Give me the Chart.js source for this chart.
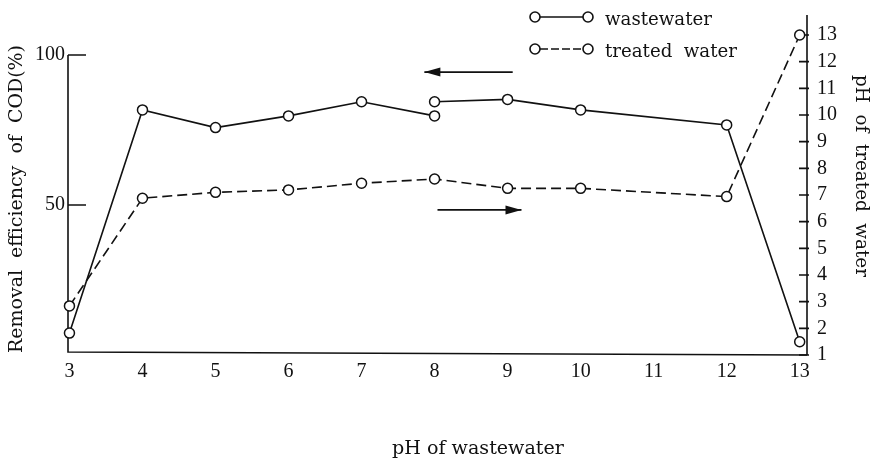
<!DOCTYPE html>
<html><head><meta charset="utf-8">
<script src="https://cdn.jsdelivr.net/npm/chart.js@4/dist/chart.umd.min.js"></script>
<style>html,body{margin:0;padding:0;background:#fff;}#wrap{width:876px;height:460px;position:relative}</style>
</head><body><div id="wrap"><canvas id="c" width="876" height="460"></canvas></div>
<script>
// ---- data ----
const wastewaterPH   = [3, 4, 5, 6, 7, 8, 8, 9, 10, 12, 13];
const removalCOD     = [7.3, 81.7, 75.8, 79.7, 84.4, 79.7, 84.4, 85.2, 81.7, 76.7, 4.4];
const treatedX       = [3, 4, 5, 6, 7, 8, 9, 10, 12, 13];
const treatedPH      = [2.84, 6.88, 7.1, 7.19, 7.44, 7.6, 7.25, 7.25, 6.94, 13.0];
const xTicks         = [3, 4, 5, 6, 7, 8, 9, 10, 11, 12, 13];
const leftTicks      = [50, 100];
const rightTicks     = [1, 2, 3, 4, 5, 6, 7, 8, 9, 10, 11, 12, 13];
const legendLabels   = ['wastewater', 'treated  water'];
const xTitle         = 'pH of wastewater';
const leftTitle      = 'Removal  efficiency  of  COD(%)';
const rightTitle     = 'pH  of  treated  water';

const SERIF = '"DejaVu Serif", serif';
const TICKF = '"Liberation Serif", serif';
const INK = '#111';

function fitSize(ctx, text, family, target) {
  ctx.font = '20px ' + family;
  return 20 * target / ctx.measureText(text).width;
}

const decor = {
  id: 'decor',
  beforeDatasetsDraw(chart) {
    const ctx = chart.ctx, xs = chart.scales.x, yl = chart.scales.yL, yr = chart.scales.yR;
    const L = xs.left, R = xs.right;
    ctx.save();
    ctx.strokeStyle = INK; ctx.lineWidth = 1.6; ctx.setLineDash([]);
    const yb = yl.getPixelForValue(1);
    ctx.beginPath();
    ctx.moveTo(L, yl.getPixelForValue(100)); ctx.lineTo(L, yb);
    ctx.lineTo(R, yb + 3);
    ctx.moveTo(R, yr.getPixelForValue(13) - 20); ctx.lineTo(R, yb + 3);
    ctx.stroke();
    // left ticks (inward)
    ctx.beginPath();
    leftTicks.forEach(v => { const y = yl.getPixelForValue(v); ctx.moveTo(L, y); ctx.lineTo(L + 18, y); });
    // right ticks
    rightTicks.forEach(v => { const y = yr.getPixelForValue(v); ctx.moveTo(R - 8, y); ctx.lineTo(R + 2, y); });
    ctx.stroke();
    // arrows
    const arrows = [
      {x1: 7.86, x2: 9.07, y: yl.getPixelForValue(94.3), head: 'left'},
      {x1: 8.04, x2: 9.19, y: yr.getPixelForValue(6.44), head: 'right'}
    ];
    ctx.fillStyle = INK;
    arrows.forEach(a => {
      const p1 = xs.getPixelForValue(a.x1), p2 = xs.getPixelForValue(a.x2);
      ctx.lineWidth = 1.8;
      ctx.beginPath(); ctx.moveTo(p1, a.y); ctx.lineTo(p2, a.y); ctx.stroke();
      const tip = a.head === 'left' ? p1 : p2, d = a.head === 'left' ? 1 : -1;
      ctx.beginPath(); ctx.moveTo(tip, a.y); ctx.lineTo(tip + d * 16, a.y - 4.5); ctx.lineTo(tip + d * 16, a.y + 4.5); ctx.closePath(); ctx.fill();
    });
    ctx.restore();
  },
  afterDraw(chart) {
    const ctx = chart.ctx;
    ctx.save();
    ctx.fillStyle = INK; ctx.strokeStyle = INK;
    // legend
    const rows = [{y: 17, base: 25, dash: []}, {y: 49, base: 57, dash: [8, 3]}];
    rows.forEach((r, i) => {
      ctx.lineWidth = 1.6;
      ctx.setLineDash(r.dash);
      ctx.beginPath(); ctx.moveTo(540, r.y); ctx.lineTo(583, r.y); ctx.stroke();
      ctx.setLineDash([]);
      [535, 588].forEach(cx => {
        ctx.beginPath(); ctx.arc(cx, r.y, 5, 0, Math.PI * 2);
        ctx.fillStyle = '#fff'; ctx.fill(); ctx.stroke();
      });
      ctx.fillStyle = INK;
      const s = fitSize(ctx, legendLabels[0], SERIF, 107);
      ctx.font = s + 'px ' + SERIF;
      ctx.textAlign = 'left'; ctx.textBaseline = 'alphabetic';
      ctx.fillText(legendLabels[i], 605, r.base);
    });
    // x title
    let s = fitSize(ctx, xTitle, SERIF, 172);
    ctx.font = s + 'px ' + SERIF; ctx.textAlign = 'center'; ctx.textBaseline = 'alphabetic';
    ctx.fillText(xTitle, 478, 454);
    // left title
    s = fitSize(ctx, leftTitle, SERIF, 308);
    ctx.font = s + 'px ' + SERIF;
    ctx.save(); ctx.translate(17, 199); ctx.rotate(-Math.PI / 2);
    ctx.textBaseline = 'middle'; ctx.fillText(leftTitle, 0, 0); ctx.restore();
    // right title
    s = fitSize(ctx, rightTitle, SERIF, 202);
    ctx.font = s + 'px ' + SERIF;
    ctx.save(); ctx.translate(861, 176); ctx.rotate(Math.PI / 2);
    ctx.textBaseline = 'middle'; ctx.fillText(rightTitle, 0, 0); ctx.restore();
    ctx.restore();
  }
};

const ptStyle = {pointRadius: 5, pointBorderWidth: 1.5, pointBackgroundColor: '#fff', pointBorderColor: INK, pointHoverRadius: 5};

new Chart(document.getElementById('c'), {
  type: 'line',
  data: {
    datasets: [
      Object.assign({
        label: legendLabels[0],
        data: wastewaterPH.map((x, i) => ({x, y: removalCOD[i]})),
        yAxisID: 'yL', borderColor: INK, borderWidth: 1.6, tension: 0, clip: false,
        segment: {borderColor: c => c.p0.parsed.x === c.p1.parsed.x ? 'rgba(0,0,0,0)' : INK}
      }, ptStyle),
      Object.assign({
        label: legendLabels[1],
        data: treatedX.map((x, i) => ({x, y: treatedPH[i]})),
        yAxisID: 'yR', borderColor: INK, borderWidth: 1.6, borderDash: [10, 5], tension: 0, clip: false
      }, ptStyle)
    ]
  },
  options: {
    responsive: false, animation: false, devicePixelRatio: 1,
    layout: {padding: {top: 35, left: 0, right: 0, bottom: 0}},
    plugins: {legend: {display: false}, tooltip: {enabled: false}},
    scales: {
      x: {
        type: 'linear', position: 'bottom', min: 2.98, max: 13.1,
        afterBuildTicks: s => { s.ticks = xTicks.map(v => ({value: v})); },
        afterFit: s => { s.height = 105; },
        grid: {display: false, drawTicks: false}, border: {display: false},
        ticks: {padding: 5, color: INK, font: {family: TICKF, size: 20}, maxRotation: 0, autoSkip: false}
      },
      yL: {
        type: 'linear', position: 'left', min: 0, max: 106.667,
        afterBuildTicks: s => { s.ticks = leftTicks.map(v => ({value: v})); },
        afterFit: s => { s.width = 68; },
        grid: {display: false, drawTicks: false}, border: {display: false},
        ticks: {padding: 3, color: INK, font: {family: TICKF, size: 20}, autoSkip: false}
      },
      yR: {
        type: 'linear', position: 'right', min: 1, max: 13,
        afterBuildTicks: s => { s.ticks = rightTicks.map(v => ({value: v})); },
        afterFit: s => { s.width = 69; },
        grid: {display: false, drawTicks: false}, border: {display: false},
        ticks: {padding: 10, color: INK, font: {family: TICKF, size: 20}, autoSkip: false}
      }
    }
  },
  plugins: [decor]
});
</script></body></html>
